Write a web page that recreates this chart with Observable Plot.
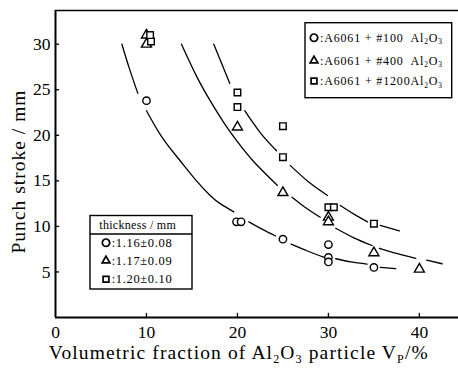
<!DOCTYPE html>
<html><head><meta charset="utf-8">
<script src="https://cdn.jsdelivr.net/npm/d3@7"></script>
<script src="https://cdn.jsdelivr.net/npm/@observablehq/plot@0.6"></script>
<style>body{margin:0;background:#fff}#chart{width:458px;height:368px}</style>
</head><body><div id="chart"></div>
<script>
// ---- axes ----
const xTicks = [0, 10, 20, 30, 40];
const yTicks = [5, 10, 15, 20, 25, 30];
const xDomain = [0, 44.3];
const yDomain = [0, 33.7];
const xTitle = ["Volumetric fraction of Al", ["2"], "O", ["3"], " particle V", ["P"], "/%"];
const yTitle = "Punch stroke / mm";

// ---- legend texts ----
const seriesLabels = [
  [":A6061 + #100  Al", ["2"], "O", ["3"]],
  [":A6061 + #400  Al", ["2"], "O", ["3"]],
  [":A6061 + #1200Al", ["2"], "O", ["3"]]
];
const thicknessTitle = "thickness / mm";
const thicknessLabels = [":1.16\u00b10.08", ":1.17\u00b10.09", ":1.20\u00b10.10"];
const symbolNames = ["circle", "triangle", "square"];

// ---- measured points ----
const circleX = [10, 19.9, 20.4, 25, 30, 30, 30, 35];
const circleY = [23.8, 10.5, 10.5, 8.6, 8.0, 6.6, 6.1, 5.5];
const triangleX = [10, 10, 20, 25, 30, 30, 35, 40];
const triangleY = [30.0, 31.0, 20.9, 13.7, 11.0, 10.5, 7.1, 5.3];
const squareX = [10.5, 10.4, 20, 20, 25, 25, 30, 30.6, 35];
const squareY = [30.3, 31.0, 24.7, 23.1, 21.0, 17.6, 12.1, 12.1, 10.3];

// ---- fitted curves (seg = broken pieces) ----
const c100X = [7.3, 8.1, 9.05, 10.0, 11.7, 13.55, 15.5, 17, 18.1, 19.6, 21.25, 22.7, 24.2, 25.9, 27.7, 29.55, 30.8, 32.5, 34.25, 35.7, 37.4];
const c100Y = [30, 27.4, 24.6, 22.7, 19.8, 17.4, 15.0, 13.4, 12.5, 11.6, 10.5, 9.7, 8.95, 8.05, 7.3, 6.6, 6.45, 6.1, 5.85, 5.5, 5.37];
const c100Seg = [0, 0, 0, 1, 1, 1, 1, 1, 1, 1, 2, 2, 2, 3, 3, 3, 4, 4, 4, 5, 5];
const c400X = [13.85, 15.5, 17, 18.5, 20, 21.8, 24.4, 26.0, 27.5, 29.1, 30.8, 32.8, 34.8, 35.6, 37.6, 39.6, 40.8, 42.5];
const c400Y = [30, 26.5, 23.8, 21.4, 19.3, 17.1, 14.5, 13.2, 12.05, 11.0, 9.8, 8.75, 7.9, 7.6, 7.0, 6.5, 6.3, 5.9];
const c400Seg = [0, 0, 0, 0, 0, 0, 0, 1, 1, 1, 2, 2, 2, 3, 3, 3, 4, 4];
const c1200X = [17.4, 18.3, 19.15, 20.8, 22.5, 24.3, 25.8, 27.8, 29.9, 31.3, 32.8, 34.3, 35.7, 37.8];
const c1200Y = [30, 27.8, 25.7, 22.7, 20.3, 18.3, 16.7, 14.9, 13.4, 12.3, 11.35, 10.5, 10.1, 9.5];
const c1200Seg = [0, 0, 0, 1, 1, 1, 2, 2, 2, 3, 3, 3, 4, 4];

const pts = (xs, ys) => xs.map((x, i) => ({x, y: ys[i]}));
const crv = (xs, ys, ss) => xs.map((x, i) => ({x, y: ys[i], seg: ss[i]}));

const FONT = "Liberation Serif, DejaVu Serif, serif";
const dotOpts = {x: "x", y: "y", r: 3.7, stroke: "#000", fill: "#fff", strokeWidth: 1.4};
const lineOpts = {x: "x", y: "y", z: "seg", curve: "natural", stroke: "#000", strokeWidth: 1.3};

const svg = Plot.plot({
  width: 458, height: 368,
  marginLeft: 55, marginRight: 0, marginTop: 10, marginBottom: 51,
  x: {domain: xDomain},
  y: {domain: yDomain},
  style: {fontFamily: FONT, fontSize: "17px", color: "#000", background: "#fff"},
  marks: [
    Plot.ruleY([yDomain[1]], {strokeWidth: 1.5}),
    Plot.line(crv(c100X, c100Y, c100Seg), lineOpts),
    Plot.line(crv(c400X, c400Y, c400Seg), lineOpts),
    Plot.line(crv(c1200X, c1200Y, c1200Seg), lineOpts),
    Plot.dot(pts(circleX, circleY), {...dotOpts, symbol: "circle"}),
    Plot.dot(pts(triangleX, triangleY), {...dotOpts, symbol: "triangle"}),
    Plot.dot(pts(squareX, squareY), {...dotOpts, symbol: "square"}),
    Plot.ruleX(xTicks.slice(1), {y1: 0, y2: 0.45, strokeWidth: 1.3}),
    Plot.ruleY(yTicks, {x1: 0, x2: 0.45, strokeWidth: 1.3}),
    Plot.axisX({ticks: xTicks, tickSize: 0, tickPadding: 8, label: null, fontSize: 17.5, fontFamily: FONT}),
    Plot.axisY({ticks: yTicks, tickSize: 0, tickPadding: 5, label: null, fontSize: 17.5, fontFamily: FONT}),
    Plot.ruleX([xDomain[0]], {strokeWidth: 2}),
    Plot.ruleY([yDomain[0]], {strokeWidth: 2})
  ]
});
document.getElementById("chart").appendChild(svg);

const root = d3.select(svg);
function richText(g, parts, x, y, size, opts = {}) {
  const t = g.append("text").attr("x", x).attr("y", y)
    .style("font-family", FONT).attr("font-size", size).attr("fill", "#000")
    .attr("text-anchor", opts.anchor || "start");
  if (opts.transform) t.attr("transform", opts.transform);
  let n = 0, reset = 0;
  (Array.isArray(parts) ? parts : [parts]).forEach(p => {
    if (Array.isArray(p)) {
      t.append("tspan").attr("font-size", size * 0.62).attr("dy", size * 0.22 + reset).text(p[0]);
      reset = -size * 0.22;
      n += p[0].length;
    } else {
      const s = t.append("tspan").text(p);
      if (reset) s.attr("dy", reset);
      reset = 0;
      n += p.length;
    }
  });
  if (opts.length) {
    const L = t.node().getComputedTextLength();
    const ls = (opts.length - L) / Math.max(1, n - 1);
    t.style("letter-spacing", ls + "px");
  }
  return t;
}
const symMap = {circle: d3.symbolCircle, triangle: d3.symbolTriangle2, square: d3.symbolSquare2};
function sym(g, name, x, y) {
  g.append("path").attr("d", d3.symbol(symMap[name], Math.PI * 3.7 * 3.7)())
    .attr("transform", `translate(${x},${y})`)
    .attr("fill", "#fff").attr("stroke", "#000").attr("stroke-width", 1.7);
}

// axis titles
richText(root, xTitle, 238.8, 359, 19.5, {anchor: "middle", length: 379});
richText(root, yTitle, 0, 0, 19.5, {anchor: "middle", length: 163, transform: "translate(25,171.5) rotate(-90)"});

// series legend (top right)
const g1 = root.append("g");
g1.append("rect").attr("x", 305).attr("y", 22.7).attr("width", 146.7).attr("height", 75)
  .attr("fill", "#fff").attr("stroke", "#000").attr("stroke-width", 1.4);
[37.7, 60.7, 81].forEach((cy, i) => {
  sym(g1, symbolNames[i], 314, cy);
  richText(g1, seriesLabels[i], 320, cy + 4, 12, {length: 122});
});

// thickness legend (bottom left)
const g2 = root.append("g");
g2.append("rect").attr("x", 90).attr("y", 215.5).attr("width", 102).attr("height", 73.5)
  .attr("fill", "#fff").attr("stroke", "#000").attr("stroke-width", 1.4);
g2.append("line").attr("x1", 90).attr("x2", 192).attr("y1", 234).attr("y2", 234)
  .attr("stroke", "#000").attr("stroke-width", 1.4);
richText(g2, thicknessTitle, 99.3, 229, 12, {length: 76.5});
[242.7, 260.7, 279.3].forEach((cy, i) => {
  sym(g2, symbolNames[i], 106, cy);
  richText(g2, thicknessLabels[i], 111.7, cy + 4, 12.5, {length: 60});
});
</script>
</body></html>
